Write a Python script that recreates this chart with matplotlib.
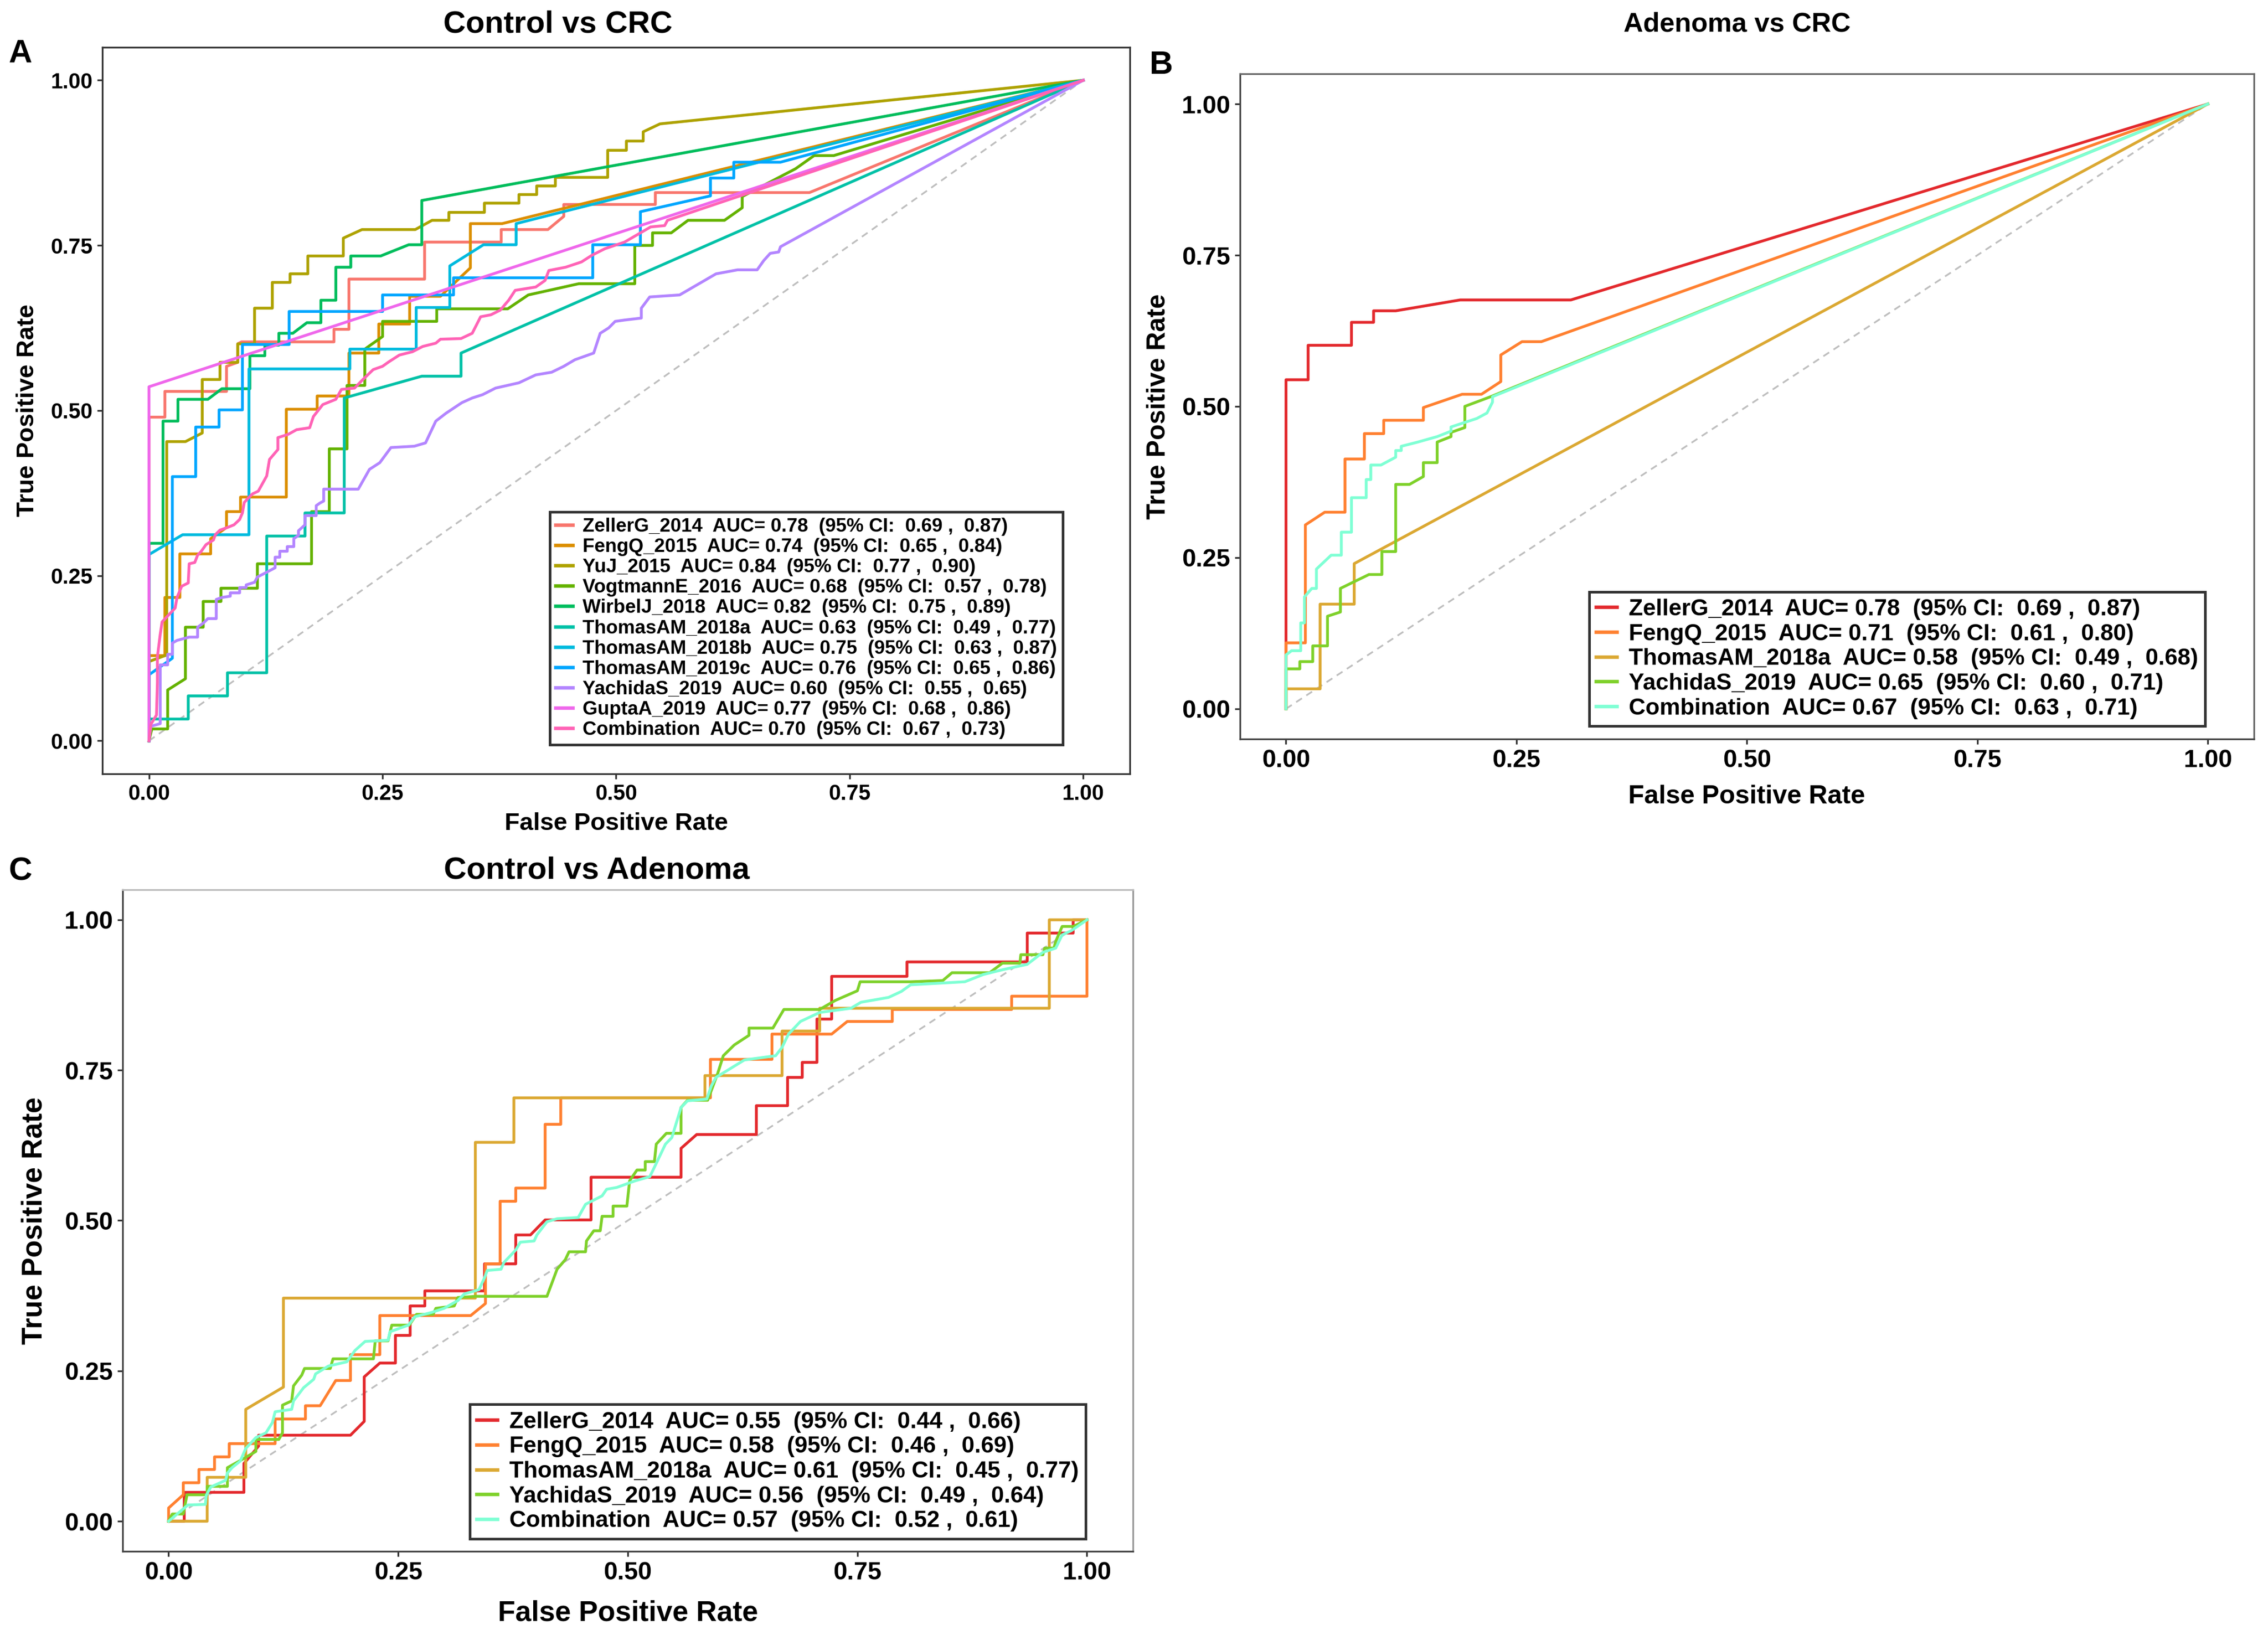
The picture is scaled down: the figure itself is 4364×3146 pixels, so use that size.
import matplotlib
matplotlib.use("Agg")
import matplotlib.pyplot as plt
from matplotlib.lines import Line2D
import numpy as np

plt.rcParams['font.family'] = ['Liberation Sans', 'DejaVu Sans']
plt.rcParams['font.weight'] = 'bold'

# ---------------- Panel A: Control vs CRC ----------------
names_a = ["ZellerG_2014", "FengQ_2015", "YuJ_2015", "VogtmannE_2016", "WirbelJ_2018",
           "ThomasAM_2018a", "ThomasAM_2018b", "ThomasAM_2019c", "YachidaS_2019",
           "GuptaA_2019", "Combination"]
auc_a = [0.78, 0.74, 0.84, 0.68, 0.82, 0.63, 0.75, 0.76, 0.60, 0.77, 0.70]
lo_a = [0.69, 0.65, 0.77, 0.57, 0.75, 0.49, 0.63, 0.65, 0.55, 0.68, 0.67]
hi_a = [0.87, 0.84, 0.90, 0.78, 0.89, 0.77, 0.87, 0.86, 0.65, 0.86, 0.73]
colors_a = ["#F8766D", "#DB8E00", "#AEA200", "#64B200", "#00BD5C", "#00C1A7",
            "#00BADE", "#00A6FF", "#B385FF", "#EF67EB", "#FF63B6"]

zeller_a = [(0, 0), (0, 0.490), (0.017, 0.490), (0.017, 0.529), (0.083, 0.529), (0.083, 0.567),
            (0.095, 0.573), (0.095, 0.601), (0.099, 0.604), (0.198, 0.604), (0.198, 0.623),
            (0.214, 0.623), (0.214, 0.699), (0.295, 0.699), (0.295, 0.755), (0.377, 0.755),
            (0.377, 0.774), (0.427, 0.774), (0.444, 0.794), (0.444, 0.812), (0.542, 0.812),
            (0.542, 0.830), (0.707, 0.830), (1, 1)]
fengq_a = [(0, 0), (0, 0.129), (0.017, 0.129), (0.017, 0.217), (0.033, 0.217), (0.033, 0.283),
           (0.066, 0.283), (0.066, 0.306), (0.083, 0.323), (0.083, 0.347), (0.098, 0.347),
           (0.098, 0.369), (0.147, 0.369), (0.147, 0.502), (0.180, 0.502), (0.180, 0.522),
           (0.214, 0.522), (0.214, 0.587), (0.246, 0.587), (0.246, 0.631), (0.279, 0.631),
           (0.279, 0.673), (0.312, 0.673), (0.344, 0.716), (0.344, 0.783), (0.378, 0.783), (1, 1)]
yuj_a = [(0, 0), (0, 0.120), (0.019, 0.130), (0.019, 0.453), (0.039, 0.453), (0.057, 0.466),
         (0.057, 0.547), (0.076, 0.547), (0.076, 0.573), (0.095, 0.573), (0.095, 0.601),
         (0.113, 0.601), (0.113, 0.655), (0.132, 0.655), (0.132, 0.694), (0.151, 0.694),
         (0.151, 0.707), (0.170, 0.707), (0.170, 0.734), (0.208, 0.734), (0.208, 0.761),
         (0.228, 0.774), (0.285, 0.774), (0.303, 0.788), (0.321, 0.788), (0.321, 0.800),
         (0.359, 0.800), (0.359, 0.814), (0.396, 0.814), (0.396, 0.827), (0.415, 0.827),
         (0.415, 0.840), (0.435, 0.840), (0.435, 0.853), (0.491, 0.853), (0.491, 0.894),
         (0.511, 0.894), (0.511, 0.908), (0.529, 0.908), (0.529, 0.922), (0.547, 0.934), (1, 1)]
vogt_a = [(0, 0), (0.003, 0.018), (0.020, 0.018), (0.020, 0.077), (0.039, 0.094), (0.039, 0.172),
          (0.058, 0.172), (0.058, 0.211), (0.077, 0.211), (0.077, 0.231), (0.116, 0.231),
          (0.116, 0.268), (0.174, 0.268), (0.174, 0.347), (0.193, 0.347), (0.193, 0.442),
          (0.212, 0.442), (0.212, 0.538), (0.231, 0.538), (0.231, 0.593), (0.250, 0.612),
          (0.250, 0.635), (0.308, 0.635), (0.308, 0.654), (0.384, 0.654), (0.406, 0.675),
          (0.460, 0.692), (0.520, 0.692), (0.520, 0.750), (0.539, 0.750), (0.539, 0.769),
          (0.559, 0.769), (0.577, 0.788), (0.616, 0.788), (0.635, 0.807), (0.635, 0.824),
          (0.692, 0.866), (0.712, 0.886), (0.733, 0.886), (1, 1)]
wirbel_a = [(0, 0), (0, 0.299), (0.015, 0.299), (0.015, 0.484), (0.031, 0.484), (0.031, 0.517),
            (0.063, 0.517), (0.078, 0.533), (0.108, 0.533), (0.108, 0.583), (0.124, 0.583),
            (0.124, 0.599), (0.139, 0.599), (0.139, 0.617), (0.154, 0.617), (0.169, 0.633),
            (0.184, 0.633), (0.184, 0.667), (0.200, 0.667), (0.200, 0.717), (0.216, 0.717),
            (0.216, 0.734), (0.248, 0.734), (0.278, 0.751), (0.292, 0.751), (0.292, 0.818), (1, 1)]
thomas18a_a = [(0, 0), (0, 0.033), (0.042, 0.033), (0.042, 0.068), (0.084, 0.068), (0.084, 0.103),
               (0.126, 0.103), (0.126, 0.310), (0.167, 0.310), (0.167, 0.345), (0.209, 0.345),
               (0.209, 0.519), (0.292, 0.552), (0.334, 0.552), (0.334, 0.587), (1, 1)]
thomas18b_a = [(0, 0), (0, 0.282), (0.036, 0.312), (0.107, 0.312), (0.107, 0.563), (0.215, 0.563),
               (0.215, 0.593), (0.286, 0.593), (0.286, 0.656), (0.322, 0.656), (0.322, 0.719),
               (0.358, 0.751), (0.393, 0.751), (0.393, 0.783), (1, 1)]
thomas19c_a = [(0, 0), (0, 0.100), (0.025, 0.125), (0.025, 0.400), (0.050, 0.400), (0.050, 0.475),
               (0.075, 0.475), (0.075, 0.501), (0.100, 0.501), (0.100, 0.600), (0.150, 0.600),
               (0.150, 0.650), (0.250, 0.650), (0.250, 0.675), (0.326, 0.675), (0.326, 0.701),
               (0.475, 0.701), (0.475, 0.751), (0.526, 0.751), (0.526, 0.801), (0.601, 0.825),
               (0.601, 0.852), (0.626, 0.852), (0.626, 0.876), (0.676, 0.876), (1, 1)]
yachida_a = [(0, 0), (0.002, 0.022), (0.012, 0.026), (0.012, 0.115), (0.020, 0.115), (0.020, 0.131),
             (0.025, 0.131), (0.025, 0.148), (0.030, 0.152), (0.043, 0.157), (0.052, 0.157),
             (0.052, 0.172), (0.058, 0.178), (0.063, 0.185), (0.072, 0.185), (0.072, 0.214),
             (0.078, 0.217), (0.087, 0.219), (0.087, 0.224), (0.097, 0.224), (0.097, 0.232),
             (0.104, 0.232), (0.104, 0.236), (0.113, 0.240), (0.116, 0.248), (0.123, 0.253),
             (0.127, 0.256), (0.135, 0.262), (0.135, 0.278), (0.140, 0.278), (0.140, 0.287),
             (0.148, 0.287), (0.148, 0.294), (0.155, 0.294), (0.155, 0.306), (0.160, 0.311),
             (0.160, 0.318), (0.167, 0.327), (0.167, 0.341), (0.179, 0.341), (0.179, 0.356),
             (0.183, 0.360), (0.187, 0.363), (0.187, 0.381), (0.224, 0.381), (0.236, 0.411),
             (0.247, 0.421), (0.259, 0.444), (0.284, 0.446), (0.296, 0.451), (0.307, 0.484),
             (0.318, 0.496), (0.335, 0.512), (0.346, 0.519), (0.357, 0.524), (0.371, 0.534),
             (0.396, 0.542), (0.414, 0.554), (0.431, 0.558), (0.444, 0.567), (0.456, 0.577),
             (0.476, 0.587), (0.483, 0.617), (0.492, 0.625), (0.499, 0.635), (0.509, 0.637),
             (0.527, 0.640), (0.527, 0.655), (0.536, 0.672), (0.568, 0.675), (0.607, 0.707),
             (0.630, 0.713), (0.651, 0.713), (0.658, 0.727), (0.665, 0.738), (0.674, 0.740),
             (0.676, 0.748), (1, 1)]
gupta_a = [(0, 0), (0, 0.536), (1, 1)]
combo_a = [(0, 0), (0.002, 0.025), (0.008, 0.039), (0.009, 0.088), (0.009, 0.127), (0.012, 0.161),
           (0.014, 0.180), (0.028, 0.201), (0.030, 0.217), (0.035, 0.234), (0.042, 0.239),
           (0.043, 0.268), (0.049, 0.270), (0.052, 0.281), (0.056, 0.287), (0.061, 0.297),
           (0.069, 0.304), (0.071, 0.312), (0.076, 0.319), (0.084, 0.323), (0.091, 0.327),
           (0.097, 0.335), (0.100, 0.345), (0.102, 0.361), (0.108, 0.370), (0.111, 0.374),
           (0.117, 0.378), (0.126, 0.401), (0.129, 0.426), (0.138, 0.441), (0.138, 0.459),
           (0.149, 0.464), (0.158, 0.471), (0.172, 0.474), (0.176, 0.491), (0.186, 0.509),
           (0.200, 0.517), (0.206, 0.532), (0.220, 0.534), (0.229, 0.547), (0.240, 0.562),
           (0.250, 0.567), (0.257, 0.574), (0.268, 0.584), (0.282, 0.589), (0.293, 0.597),
           (0.307, 0.602), (0.312, 0.608), (0.334, 0.609), (0.346, 0.617), (0.355, 0.642),
           (0.366, 0.645), (0.376, 0.652), (0.385, 0.667), (0.392, 0.682), (0.414, 0.687),
           (0.424, 0.697), (0.428, 0.712), (0.446, 0.717), (0.463, 0.725), (0.474, 0.735),
           (0.488, 0.745), (0.509, 0.755), (0.537, 0.778), (0.552, 0.780), (0.555, 0.788), (1, 1)]
curves_a = [zeller_a, fengq_a, yuj_a, vogt_a, wirbel_a, thomas18a_a, thomas18b_a,
            thomas19c_a, yachida_a, gupta_a, combo_a]

# ---------------- Panel B: Adenoma vs CRC ----------------
names_b = ["ZellerG_2014", "FengQ_2015", "ThomasAM_2018a", "YachidaS_2019", "Combination"]
auc_b = [0.78, 0.71, 0.58, 0.65, 0.67]
lo_b = [0.69, 0.61, 0.49, 0.60, 0.63]
hi_b = [0.87, 0.80, 0.68, 0.71, 0.71]
colors_bc = ["#E3292D", "#FF8030", "#DBA832", "#7ED12A", "#7FFFD4"]

zeller_b = [(0, 0), (0, 0.544), (0.024, 0.544), (0.024, 0.601), (0.071, 0.601), (0.071, 0.639),
            (0.095, 0.639), (0.095, 0.658), (0.119, 0.658), (0.189, 0.676), (0.309, 0.676), (1, 1)]
fengq_b = [(0, 0), (0, 0.109), (0.021, 0.109), (0.021, 0.304), (0.042, 0.325), (0.064, 0.325),
           (0.064, 0.413), (0.085, 0.413), (0.085, 0.455), (0.106, 0.455), (0.106, 0.477),
           (0.149, 0.477), (0.149, 0.498), (0.191, 0.520), (0.212, 0.520), (0.233, 0.541),
           (0.233, 0.585), (0.256, 0.607), (0.277, 0.607), (1, 1)]
thomas_b = [(0, 0), (0, 0.033), (0.037, 0.033), (0.037, 0.173), (0.074, 0.173), (0.074, 0.240), (1, 1)]
yachida_b = [(0, 0), (0, 0.066), (0.015, 0.066), (0.015, 0.078), (0.029, 0.078), (0.029, 0.104),
             (0.045, 0.104), (0.045, 0.153), (0.059, 0.160), (0.059, 0.199), (0.090, 0.222),
             (0.104, 0.222), (0.104, 0.260), (0.119, 0.260), (0.119, 0.371), (0.134, 0.371),
             (0.149, 0.384), (0.149, 0.407), (0.164, 0.407), (0.164, 0.441), (0.179, 0.450),
             (0.179, 0.457), (0.194, 0.465), (0.194, 0.500), (0.222, 0.516), (1, 1)]
combo_b = [(0, 0), (0, 0.089), (0.006, 0.096), (0.016, 0.096), (0.016, 0.142), (0.020, 0.142),
           (0.020, 0.185), (0.028, 0.199), (0.033, 0.199), (0.033, 0.231), (0.049, 0.254),
           (0.060, 0.254), (0.060, 0.292), (0.071, 0.292), (0.071, 0.349), (0.087, 0.349),
           (0.087, 0.379), (0.092, 0.379), (0.092, 0.403), (0.103, 0.403), (0.119, 0.416),
           (0.119, 0.427), (0.125, 0.427), (0.125, 0.434), (0.143, 0.441), (0.164, 0.450),
           (0.179, 0.459), (0.179, 0.466), (0.207, 0.480), (0.218, 0.489), (0.224, 0.507),
           (0.224, 0.516), (1, 1)]
curves_b = [zeller_b, fengq_b, thomas_b, yachida_b, combo_b]

# ---------------- Panel C: Control vs Adenoma ----------------
names_c = names_b
auc_c = [0.55, 0.58, 0.61, 0.56, 0.57]
lo_c = [0.44, 0.46, 0.45, 0.49, 0.52]
hi_c = [0.66, 0.69, 0.77, 0.64, 0.61]

zeller_c = [(0, 0), (0.017, 0), (0.017, 0.048), (0.082, 0.048), (0.082, 0.096), (0.098, 0.125),
            (0.098, 0.143), (0.198, 0.143), (0.213, 0.166), (0.213, 0.240), (0.230, 0.263),
            (0.247, 0.263), (0.247, 0.309), (0.263, 0.309), (0.263, 0.358), (0.279, 0.358),
            (0.279, 0.383), (0.344, 0.383), (0.344, 0.428), (0.378, 0.428), (0.378, 0.476),
            (0.394, 0.476), (0.410, 0.501), (0.460, 0.501), (0.460, 0.572), (0.558, 0.572),
            (0.558, 0.620), (0.575, 0.643), (0.640, 0.643), (0.640, 0.691), (0.674, 0.691),
            (0.674, 0.738), (0.690, 0.738), (0.690, 0.763), (0.706, 0.763), (0.706, 0.835),
            (0.722, 0.835), (0.722, 0.906), (0.804, 0.906), (0.804, 0.930), (0.935, 0.930),
            (0.935, 0.978), (0.985, 0.978), (0.985, 1), (1, 1)]
fengq_c = [(0, 0), (0, 0.022), (0.016, 0.044), (0.016, 0.064), (0.033, 0.064), (0.033, 0.086),
           (0.050, 0.086), (0.050, 0.107), (0.066, 0.107), (0.066, 0.129), (0.116, 0.129),
           (0.116, 0.170), (0.149, 0.170), (0.149, 0.192), (0.165, 0.192), (0.182, 0.234),
           (0.198, 0.234), (0.198, 0.277), (0.230, 0.277), (0.230, 0.342), (0.329, 0.342),
           (0.345, 0.362), (0.345, 0.428), (0.361, 0.428), (0.361, 0.532), (0.378, 0.532),
           (0.378, 0.554), (0.410, 0.554), (0.410, 0.660), (0.427, 0.660), (0.427, 0.704),
           (0.590, 0.704), (0.590, 0.768), (0.657, 0.768), (0.657, 0.810), (0.722, 0.810),
           (0.739, 0.831), (0.788, 0.831), (0.788, 0.851), (0.918, 0.851), (0.918, 0.873),
           (1, 0.873), (1, 1)]
thomas_c = [(0, 0), (0.042, 0), (0.042, 0.073), (0.084, 0.073), (0.084, 0.186), (0.125, 0.223),
            (0.125, 0.371), (0.334, 0.371), (0.334, 0.630), (0.376, 0.630), (0.376, 0.704),
            (0.584, 0.704), (0.584, 0.741), (0.668, 0.741), (0.668, 0.815), (0.709, 0.815),
            (0.709, 0.853), (0.959, 0.853), (0.959, 1), (1, 1)]
yachida_c = [(0, 0), (0.004, 0.012), (0.016, 0.012), (0.020, 0.044), (0.042, 0.044), (0.042, 0.058),
             (0.064, 0.058), (0.064, 0.089), (0.077, 0.100), (0.095, 0.116), (0.095, 0.136),
             (0.120, 0.136), (0.124, 0.147), (0.124, 0.193), (0.134, 0.200), (0.136, 0.225),
             (0.145, 0.243), (0.148, 0.254), (0.176, 0.254), (0.179, 0.270), (0.223, 0.270),
             (0.225, 0.300), (0.239, 0.300), (0.243, 0.326), (0.262, 0.326), (0.270, 0.344),
             (0.288, 0.344), (0.291, 0.354), (0.311, 0.358), (0.315, 0.372), (0.335, 0.374),
             (0.412, 0.374), (0.423, 0.419), (0.432, 0.435), (0.436, 0.448), (0.454, 0.448),
             (0.455, 0.466), (0.463, 0.483), (0.470, 0.483), (0.472, 0.507), (0.484, 0.507),
             (0.484, 0.524), (0.499, 0.524), (0.502, 0.566), (0.510, 0.584), (0.519, 0.584),
             (0.519, 0.598), (0.529, 0.598), (0.531, 0.627), (0.542, 0.645), (0.558, 0.645),
             (0.558, 0.688), (0.565, 0.700), (0.587, 0.700), (0.598, 0.745), (0.604, 0.774),
             (0.616, 0.792), (0.632, 0.808), (0.632, 0.820), (0.658, 0.820), (0.670, 0.851),
             (0.709, 0.851), (0.726, 0.866), (0.750, 0.882), (0.753, 0.897), (0.808, 0.897),
             (0.843, 0.899), (0.853, 0.912), (0.894, 0.912), (0.908, 0.928), (0.927, 0.928),
             (0.928, 0.942), (0.952, 0.942), (0.954, 0.953), (0.964, 0.953), (0.966, 0.964),
             (0.973, 0.989), (0.985, 0.989), (1, 1)]
combo_c = [(0, 0), (0.021, 0.027), (0.040, 0.028), (0.041, 0.043), (0.046, 0.057), (0.062, 0.068),
           (0.064, 0.080), (0.069, 0.089), (0.078, 0.100), (0.084, 0.121), (0.095, 0.139),
           (0.106, 0.147), (0.113, 0.164), (0.116, 0.182), (0.134, 0.186), (0.136, 0.200),
           (0.147, 0.222), (0.158, 0.236), (0.160, 0.245), (0.174, 0.258), (0.194, 0.265),
           (0.203, 0.284), (0.214, 0.299), (0.239, 0.301), (0.241, 0.315), (0.261, 0.326),
           (0.268, 0.340), (0.286, 0.347), (0.300, 0.354), (0.315, 0.367), (0.322, 0.378),
           (0.338, 0.385), (0.344, 0.405), (0.347, 0.417), (0.362, 0.419), (0.365, 0.430),
           (0.378, 0.451), (0.383, 0.464), (0.398, 0.466), (0.401, 0.476), (0.412, 0.498),
           (0.423, 0.503), (0.446, 0.505), (0.454, 0.527), (0.472, 0.541), (0.477, 0.552),
           (0.488, 0.555), (0.508, 0.566), (0.524, 0.573), (0.531, 0.595), (0.541, 0.627),
           (0.548, 0.638), (0.558, 0.688), (0.565, 0.699), (0.586, 0.702), (0.591, 0.724),
           (0.596, 0.738), (0.627, 0.767), (0.661, 0.774), (0.668, 0.788), (0.675, 0.810),
           (0.688, 0.831), (0.709, 0.846), (0.743, 0.853), (0.754, 0.863), (0.784, 0.871),
           (0.798, 0.881), (0.808, 0.892), (0.867, 0.897), (0.887, 0.909), (0.908, 0.917),
           (0.935, 0.926), (0.952, 0.946), (0.966, 0.953), (0.973, 0.975), (0.983, 0.982), (1, 1)]
curves_c = [zeller_c, fengq_c, thomas_c, yachida_c, combo_c]

ticks = [0.00, 0.25, 0.50, 0.75, 1.00]
tick_labels = ["0.00", "0.25", "0.50", "0.75", "1.00"]


def draw_panel(ax, curves, names, aucs, los, his, colors, tick_size, label_size,
               leg_size, leg_anchor, spine_colors, lw, leg_spacing):
    ax.plot([0, 1], [0, 1], color="#BEBEBE", lw=0.8, dashes=(4, 3), zorder=1)
    handles = []
    labels = []
    for pts, name, a, lo, hi, col in zip(curves, names, aucs, los, his, colors):
        arr = np.array(pts)
        ax.plot(arr[:, 0], arr[:, 1], color=col, lw=lw, zorder=2)
        handles.append(Line2D([0], [0], color=col, lw=lw + 0.3))
        labels.append(f"{name}  AUC= {a:.2f}  (95% CI:  {lo:.2f} ,  {hi:.2f})")
    ax.set_xlim(-0.05, 1.05)
    ax.set_ylim(-0.05, 1.05)
    ax.set_xticks(ticks)
    ax.set_xticklabels(tick_labels)
    ax.set_yticks(ticks)
    ax.set_yticklabels(tick_labels)
    ax.tick_params(labelsize=tick_size, length=2.5, width=0.8, color="#333333", pad=2)
    for lab in ax.get_xticklabels() + ax.get_yticklabels():
        lab.set_fontweight("bold")
    for side, col in spine_colors.items():
        ax.spines[side].set_color(col)
        ax.spines[side].set_linewidth(0.8)
    ax.set_xlabel("False Positive Rate", fontsize=label_size, fontweight="bold")
    ax.set_ylabel("True Positive Rate", fontsize=label_size, fontweight="bold")
    leg = ax.legend(handles, labels, loc="lower left", bbox_to_anchor=leg_anchor,
                    fontsize=leg_size, frameon=True, fancybox=False, edgecolor="black",
                    borderpad=0.3, labelspacing=leg_spacing, handlelength=0.9, handletextpad=0.5,
                    borderaxespad=0)
    leg.get_frame().set_linewidth(1.2)
    for t in leg.get_texts():
        t.set_fontweight("bold")
    return leg


fig = plt.figure(figsize=(4364 / 300, 3146 / 300), dpi=300)
axA = fig.add_axes([0.0451, 0.5267, 0.4531, 0.4444])
axB = fig.add_axes([0.5467, 0.5480, 0.4471, 0.4069])
axC = fig.add_axes([0.0541, 0.0512, 0.4454, 0.4046])

draw_panel(axA, curves_a, names_a, auc_a, lo_a, hi_a, colors_a, 10, 11.3, 8.9,
           (0.4355, 0.040), {"left": "#333333", "bottom": "#333333", "top": "#333333", "right": "#333333"},
           1.3, 0.11)
draw_panel(axB, curves_b, names_b, auc_b, lo_b, hi_b, colors_bc, 11.5, 12, 10.7,
           (0.3444, 0.0195), {"left": "#444444", "bottom": "#444444", "top": "#666666", "right": "#666666"},
           1.3, 0.15)
draw_panel(axC, curves_c, names_c, auc_c, lo_c, hi_c, colors_bc, 11.5, 13.2, 10.7,
           (0.3436, 0.0189), {"left": "#444444", "bottom": "#444444", "top": "#BBBBBB", "right": "#999999"},
           1.3, 0.15)

# label positions
axA.xaxis.set_label_coords(0.5, -0.069)
axA.xaxis.label.set_va("center")
axA.yaxis.set_label_coords(-0.0725, 0.5)
axA.yaxis.label.set_va("center")
axB.xaxis.set_label_coords(0.5, -0.0865)
axB.xaxis.label.set_va("center")
axB.yaxis.set_label_coords(-0.0805, 0.5)
axB.yaxis.label.set_va("center")
axC.xaxis.set_label_coords(0.5, -0.094)
axC.xaxis.label.set_va("center")
axC.yaxis.set_label_coords(-0.087, 0.5)
axC.yaxis.label.set_va("center")

fig.text(0.2459, 0.985, "Control vs CRC", ha="center", va="center", fontsize=14.3, fontweight="bold")
fig.text(0.766, 0.985, "Adenoma vs CRC", ha="center", va="center", fontsize=12.5, fontweight="bold")
fig.text(0.263, 0.4676, "Control vs Adenoma", ha="center", va="center", fontsize=14.5, fontweight="bold")

fig.text(0.009, 0.967, "A", ha="center", va="center", fontsize=15, fontweight="bold")
fig.text(0.512, 0.960, "B", ha="center", va="center", fontsize=15, fontweight="bold")
fig.text(0.009, 0.467, "C", ha="center", va="center", fontsize=15, fontweight="bold")

fig.savefig("out.png", dpi=300)
